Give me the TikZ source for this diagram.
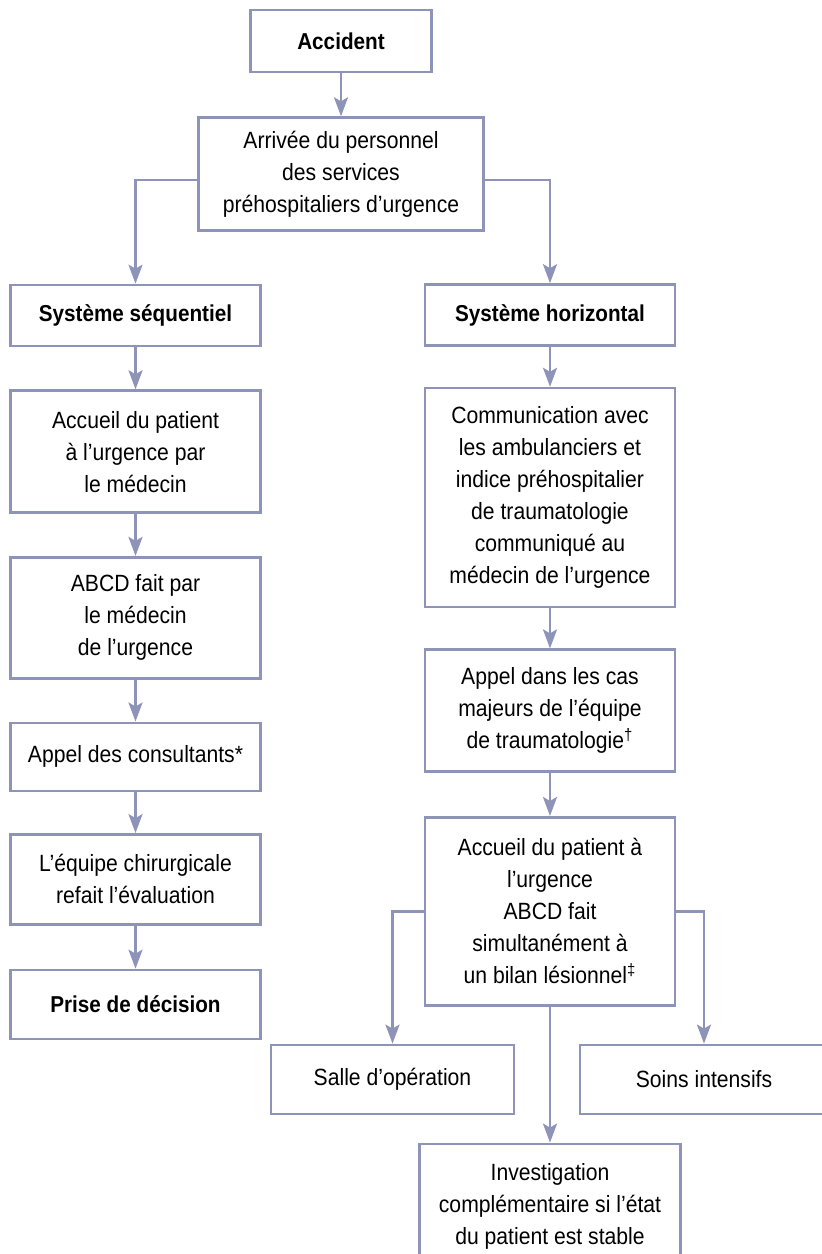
\documentclass[tikz,border=0pt]{standalone}
\usepackage{fontspec}
\setmainfont{Liberation Sans}[FakeStretch=0.9]
\usetikzlibrary{positioning,arrows.meta}
\definecolor{lineblue}{RGB}{142,147,184}
\tikzset{
  box/.style={draw=lineblue,line width=1.3pt,align=center,inner sep=2pt,
    font=\fontsize{11.75}{16}\selectfont},
  head/.style={font=\fontsize{11.5}{16}\selectfont\bfseries},
  colbox/.style={box,minimum width=125pt},
  link/.style={draw=lineblue,line width=1.3pt,
    -{Stealth[length=9.5pt,width=7pt,inset=2pt]}}
}
\begin{document}
\begin{tikzpicture}
  \useasboundingbox (0,0) rectangle (411pt,-627pt);

  \node[box,head,minimum width=90.5pt,minimum height=31pt] (acc) at (170.5pt,-20.5pt) {Accident};
  \node[box,minimum width=142.5pt,minimum height=56.5pt,below=21.5pt of acc] (arr)
    {Arrivée du personnel\\des services\\préhospitaliers d’urgence};

  % systeme sequentiel
  \node[colbox,head,minimum height=30.5pt] (seq) at (67.75pt,-157.75pt) {Système séquentiel};
  \node[colbox,minimum height=61pt,below=21pt of seq] (pat) {Accueil du patient\\à l’urgence par\\le médecin};
  \node[colbox,minimum height=60.5pt,below=21pt of pat] (abcd) {ABCD fait par\\le médecin\\de l’urgence};
  \node[colbox,minimum height=34pt,below=21pt of abcd] (cons) {Appel des consultants*};
  \node[colbox,minimum height=45pt,below=20.5pt of cons] (chir) {L’équipe chirurgicale\\refait l’évaluation};
  \node[colbox,head,minimum height=34.5pt,below=21.5pt of chir] (dec) {Prise de décision};

  % systeme horizontal
  \node[colbox,head,minimum height=30.5pt] (hor) at (275pt,-157.5pt) {Système horizontal};
  \node[colbox,minimum height=109.5pt,below=20pt of hor] (comm)
    {Communication avec\\les ambulanciers et\\indice préhospitalier\\de traumatologie\\communiqué au\\médecin de l’urgence};
  \node[colbox,minimum height=61pt,below=20pt of comm] (trauma)
    {Appel dans les cas\\majeurs de l’équipe\\de traumatologie\textsuperscript{†}};
  \node[colbox,minimum height=94pt,below=21.5pt of trauma] (bilan)
    {Accueil du patient à\\l’urgence\\ABCD fait\\simultanément à\\un bilan lésionnel\textsuperscript{‡}};
  \node[box,minimum width=121.5pt,minimum height=34.5pt,below=18.5pt of bilan,xshift=-78.75pt] (salle) {Salle d’opération};
  \node[box,minimum width=124pt,minimum height=34.5pt,below=18.5pt of bilan,xshift=77pt] (soins) {Soins intensifs};
  \node[box,minimum width=130.5pt,minimum height=62.5pt,below=68pt of bilan] (inv)
    {Investigation\\complémentaire si l’état\\du patient est stable};

  \draw[link] (acc) -- (arr);
  \draw[link] (seq) -- (pat);
  \draw[link] (pat) -- (abcd);
  \draw[link] (abcd) -- (cons);
  \draw[link] (cons) -- (chir);
  \draw[link] (chir) -- (dec);
  \draw[link] (hor) -- (comm);
  \draw[link] (comm) -- (trauma);
  \draw[link] (trauma) -- (bilan);
  \draw[link] (bilan) -- (inv);
  \draw[link] ([yshift=-3pt]arr.west) -| (seq);
  \draw[link] ([yshift=-3pt]arr.east) -| (hor);
  \draw[link] (bilan.west) -| (salle);
  \draw[link] (bilan.east) -| (soins);
\end{tikzpicture}
\end{document}
